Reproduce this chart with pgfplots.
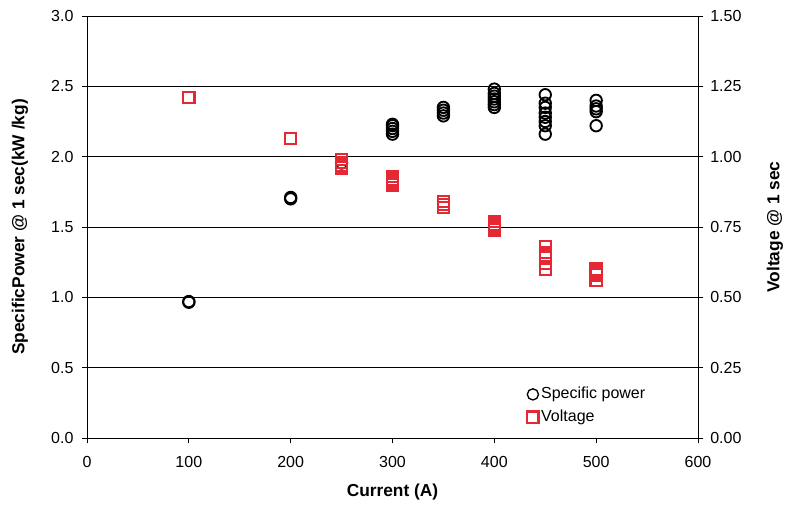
\documentclass[border=0pt]{standalone}
\usepackage{fontspec}
\setmainfont{Liberation Sans}
\usepackage{pgfplots}
\pgfplotsset{compat=1.18}
\definecolor{vred}{RGB}{228,40,52}
\begin{document}
\begin{tikzpicture}
\fontsize{12}{14.4}\selectfont
\path[use as bounding box] (-65.25pt,-53.25pt) rectangle (524.25pt,328.5pt);
\pgfplotsset{every axis/.append style={
  scale only axis, width=458.25pt, height=316.5pt,
  at={(0,0)}, anchor=south west,
  xmin=0, xmax=600, 
  tick style={black, line width=0.6pt},
  major tick length=4pt,
  tick align=outside,
  /pgf/number format/assume math mode=true,
  tick label style={font=\fontsize{12}{14.4}\selectfont},
  label style={font=\fontsize{13}{15.6}\selectfont\bfseries},
  axis line style={black, line width=0.7pt},
}}
\begin{axis}[
  axis x line*=bottom, axis y line*=left,
  ymin=0, ymax=3,
  xtick={0,100,...,600},
  ytick={0,0.5,...,3},
  yticklabel style={xshift=-2pt, /pgf/number format/.cd, fixed, fixed zerofill, precision=1},
  xticklabel style={yshift=-5.5pt},
  ymajorgrids, grid style={black, line width=0.7pt},
  xlabel={Current (A)},
  ylabel={SpecificPower @ 1 sec(kW /kg)},
  xlabel style={at={(axis description cs:0.5,-0.128)}, anchor=center},
  ylabel style={at={(axis description cs:-0.1097,0.5)}, anchor=center},
]
\addplot[only marks, mark=o, mark size=4.3pt, line width=1.4pt, black] coordinates {
(100,0.965)(100,0.97)
(200,1.70)(200,1.71)
(250,1.955)
(300,2.16)(300,2.18)(300,2.20)(300,2.22)(300,2.23)
(350,2.29)(350,2.31)(350,2.33)(350,2.35)
(400,2.35)(400,2.37)(400,2.39)(400,2.41)(400,2.43)(400,2.45)(400,2.48)
(450,2.16)(450,2.22)(450,2.25)(450,2.28)(450,2.31)(450,2.35)(450,2.38)(450,2.44)
(500,2.22)(500,2.32)(500,2.34)(500,2.36)(500,2.40)
};
\end{axis}
\begin{axis}[
  axis x line=none, axis y line*=right,
  ymin=0, ymax=1.5,
  ytick={0,0.25,...,1.5},
  yticklabel style={xshift=1pt, /pgf/number format/.cd, fixed, fixed zerofill, precision=2},
  ylabel={Voltage @ 1 sec},
  ylabel style={at={(axis description cs:1.126,0.5)}, anchor=center},
  legend style={at={(rel axis cs:0.718,0.13)}, anchor=north west, draw=none, fill=none,
    font=\fontsize{12}{14.4}\selectfont, row sep=2.5pt,
    legend cell align=left, inner sep=1pt},
]
\addlegendimage{only marks, mark=o, mark size=4.2pt, line width=1pt, black}
\addlegendentry{Specific power}
\addplot[only marks, mark=square, mark size=4.2pt, line width=1.7pt, vred] coordinates {
(100,1.21)
(200,1.065)
(250,0.96)(250,0.97)(250,0.98)(250,0.99)
(300,0.90)(300,0.91)(300,0.92)(300,0.93)
(350,0.82)(350,0.83)(350,0.84)
(400,0.74)(400,0.75)(400,0.76)(400,0.77)
(450,0.60)(450,0.62)(450,0.64)(450,0.65)(450,0.66)(450,0.68)
(500,0.56)(500,0.58)(500,0.59)(500,0.60)
};
\addlegendentry{Voltage}
\end{axis}
\end{tikzpicture}
\end{document}
